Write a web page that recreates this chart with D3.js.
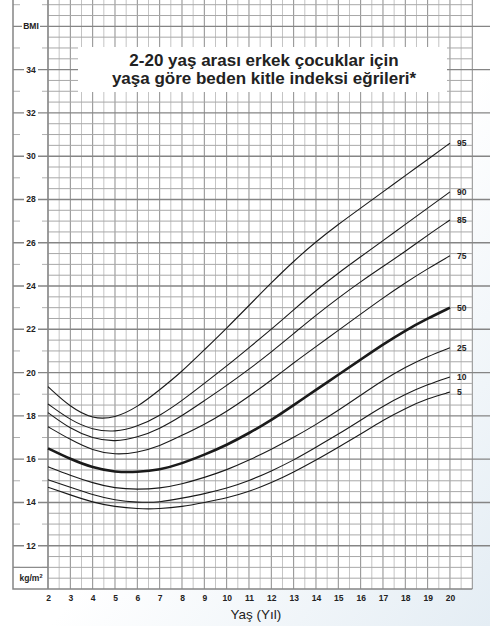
<!DOCTYPE html>
<html>
<head>
<meta charset="utf-8">
<script src="https://cdn.jsdelivr.net/npm/d3@7"></script>
<style>
  body { margin: 0; background: #fff; }
  svg text { font-family: "Liberation Sans", Arial, Helvetica, sans-serif; fill: #222; }
</style>
</head>
<body>
<div id="chart"></div>
<script>
const ages = [2, 3, 4, 5, 6, 7, 8, 9, 10, 11, 12, 13, 14, 15, 16, 17, 18, 19, 20];
const p5  = [14.7, 14.35, 14.0, 13.8, 13.7, 13.7, 13.8, 14.0, 14.2, 14.5, 14.9, 15.4, 15.95, 16.55, 17.15, 17.8, 18.35, 18.8, 19.1];
const p10 = [15.05, 14.7, 14.35, 14.1, 14.0, 14.0, 14.2, 14.4, 14.65, 15.0, 15.45, 15.95, 16.55, 17.15, 17.8, 18.45, 19.0, 19.45, 19.8];
const p25 = [15.65, 15.25, 14.9, 14.65, 14.6, 14.65, 14.85, 15.15, 15.5, 15.95, 16.45, 17.0, 17.6, 18.25, 18.95, 19.65, 20.25, 20.75, 21.15];
const p50 = [16.5, 16.0, 15.6, 15.4, 15.4, 15.5, 15.8, 16.2, 16.65, 17.2, 17.8, 18.5, 19.2, 19.9, 20.6, 21.3, 21.95, 22.5, 23.0];
const p75 = [17.5, 16.9, 16.4, 16.2, 16.3, 16.6, 17.1, 17.6, 18.2, 18.9, 19.65, 20.45, 21.2, 21.95, 22.7, 23.45, 24.15, 24.8, 25.4];
const p85 = [18.15, 17.4, 16.95, 16.8, 17.0, 17.4, 18.0, 18.7, 19.4, 20.15, 20.95, 21.8, 22.65, 23.45, 24.2, 24.9, 25.6, 26.35, 27.05];
const p90 = [18.55, 17.8, 17.35, 17.25, 17.5, 18.0, 18.7, 19.5, 20.3, 21.15, 22.0, 22.9, 23.8, 24.6, 25.35, 26.1, 26.85, 27.6, 28.35];
const p95 = [19.35, 18.4, 17.85, 17.9, 18.4, 19.2, 20.05, 21.05, 22.05, 23.1, 24.15, 25.15, 26.05, 26.85, 27.6, 28.35, 29.1, 29.85, 30.6];

const percentiles = ["5", "10", "25", "50", "75", "85", "90", "95"];
const series = [p5, p10, p25, p50, p75, p85, p90, p95];
const xTicks = [2, 3, 4, 5, 6, 7, 8, 9, 10, 11, 12, 13, 14, 15, 16, 17, 18, 19, 20];
const yTicks = [12, 14, 16, 18, 20, 22, 24, 26, 28, 30, 32, 34];
const title = ["2-20 yaş arası erkek çocuklar için", "yaşa göre beden kitle indeksi eğrileri*"];

const width = 490;
const height = 626;
const left = 13, plotLeft = 48, plotRight = 472.3, bottom = 589;

const x = d3.scaleLinear().domain([2, 21]).range([plotLeft, plotRight]);
const y = d3.scaleLinear().domain([10, 37]).range([bottom, 4.7]);

const svg = d3.select("#chart")
    .append("svg")
    .attr("width", width)
    .attr("height", height);

const defs = svg.append("defs");
const grad = defs.append("linearGradient")
    .attr("id", "bg")
    .attr("x1", 0.55).attr("y1", 0.55)
    .attr("x2", 1).attr("y2", 1);
grad.append("stop").attr("offset", 0).attr("stop-color", "#ffffff");
grad.append("stop").attr("offset", 1).attr("stop-color", "#e4edf4");

svg.append("rect")
    .attr("width", width)
    .attr("height", height)
    .attr("fill", "url(#bg)");

svg.append("rect")
    .attr("x", left)
    .attr("y", 0)
    .attr("width", plotRight - left)
    .attr("height", bottom)
    .attr("fill", "#fff");

// grid
const grid = svg.append("g");
const halfYears = d3.range(2, 21.01, 0.5);
grid.selectAll(".vline")
    .data(halfYears)
    .enter()
    .append("line")
    .attr("x1", d => x(d)).attr("x2", d => x(d))
    .attr("y1", 0).attr("y2", bottom)
    .attr("stroke", d => (d % 1 === 0 ? "#8c8c8c" : "#c4c4c4"))
    .attr("stroke-width", 1);

const halfBmi = d3.range(10.5, 37.01, 0.5);
grid.selectAll(".hline")
    .data(halfBmi.filter(d => d % 2 !== 0))
    .enter()
    .append("line")
    .attr("x1", plotLeft).attr("x2", plotRight)
    .attr("y1", d => y(d)).attr("y2", d => y(d))
    .attr("stroke", "#a8a8a8")
    .attr("stroke-width", 1);

// short ticks in the label column for odd values
const oddBmi = d3.range(11, 37.01, 2);
grid.selectAll(".oddL")
    .data(oddBmi)
    .enter()
    .append("line")
    .attr("x1", left).attr("x2", left + 7)
    .attr("y1", d => y(d)).attr("y2", d => y(d))
    .attr("stroke", "#b0b0b0");
grid.selectAll(".oddR")
    .data(oddBmi)
    .enter()
    .append("line")
    .attr("x1", plotLeft - 6).attr("x2", plotLeft)
    .attr("y1", d => y(d)).attr("y2", d => y(d))
    .attr("stroke", "#b0b0b0");

grid.append("line")
    .attr("x1", left).attr("x2", plotLeft)
    .attr("y1", y(11)).attr("y2", y(11))
    .attr("stroke", "#8c8c8c").attr("stroke-width", 1.3);

const evenBmi = d3.range(12, 36.01, 2);
grid.selectAll(".even")
    .data(evenBmi)
    .enter()
    .append("line")
    .attr("x1", left).attr("x2", width)
    .attr("y1", d => y(d)).attr("y2", d => y(d))
    .attr("stroke", "#858585")
    .attr("stroke-width", 1.4);

// frame
svg.append("path")
    .attr("d", `M${left},0V${bottom}H${plotRight}`)
    .attr("fill", "none")
    .attr("stroke", "#858585")
    .attr("stroke-width", 1.5);
svg.append("line")
    .attr("x1", plotLeft).attr("x2", plotLeft)
    .attr("y1", 0).attr("y2", bottom)
    .attr("stroke", "#858585")
    .attr("stroke-width", 1.3);

// y labels with white backing
const yLab = svg.append("g");
const yLabels = yTicks.map(d => ({ v: d, t: String(d), w: 14 }))
    .concat([{ v: 36, t: "BMI", w: 18 }]);
yLab.selectAll("rect")
    .data(yLabels)
    .enter()
    .append("rect")
    .attr("x", d => 31 - d.w / 2)
    .attr("y", d => y(d.v) - 5)
    .attr("width", d => d.w)
    .attr("height", 10)
    .attr("fill", "#fff");
yLab.selectAll("text")
    .data(yLabels)
    .enter()
    .append("text")
    .attr("x", 31)
    .attr("y", d => y(d.v) + 3)
    .attr("text-anchor", "middle")
    .attr("font-size", "8.5px")
    .attr("font-weight", "bold")
    .text(d => d.t);

const unit = yLab.append("text")
    .attr("x", 31)
    .attr("y", y(10.5) + 3)
    .attr("text-anchor", "middle")
    .attr("font-size", "8.5px")
    .attr("font-weight", "bold");
unit.append("tspan").text("kg/m");
unit.append("tspan").attr("font-size", "5.5px").attr("dy", -3).text("2");

// x axis labels
const xAxis = svg.append("g")
    .attr("transform", `translate(0,${bottom})`)
    .call(d3.axisBottom(x).tickValues(xTicks).tickSize(0).tickPadding(6));
xAxis.select(".domain").remove();
xAxis.selectAll("text")
    .attr("font-size", "8.5px")
    .attr("font-weight", "bold")
    .attr("font-family", "Liberation Sans, Arial, sans-serif")
    .attr("fill", "#222");

svg.append("text")
    .attr("x", 256)
    .attr("y", 619)
    .attr("text-anchor", "middle")
    .attr("font-size", "13.5px")
    .text("Yaş (Yıl)");

// title
svg.append("rect")
    .attr("x", 78).attr("y", 47)
    .attr("width", 369).attr("height", 45)
    .attr("fill", "#fff");
svg.selectAll(".title")
    .data(title)
    .enter()
    .append("text")
    .attr("x", 264)
    .attr("y", (d, i) => 66 + i * 18)
    .attr("text-anchor", "middle")
    .attr("font-size", "17px")
    .attr("font-weight", "bold")
    .attr("fill", "#111")
    .text(d => d);

// percentile curves
const line = d3.line()
    .x((d, i) => x(ages[i]))
    .y(d => y(d))
    .curve(d3.curveBasis);

svg.selectAll(".curve")
    .data(series)
    .enter()
    .append("path")
    .attr("d", line)
    .attr("fill", "none")
    .attr("stroke", "#1a1a1a")
    .attr("stroke-width", (d, i) => (percentiles[i] === "50" ? 2.6 : 1.1));

svg.selectAll(".plabel")
    .data(series)
    .enter()
    .append("text")
    .attr("x", x(20) + 7)
    .attr("y", d => y(d[d.length - 1]) + 3)
    .attr("font-size", "8.5px")
    .attr("font-weight", "bold")
    .text((d, i) => percentiles[i]);
</script>
</body>
</html>
